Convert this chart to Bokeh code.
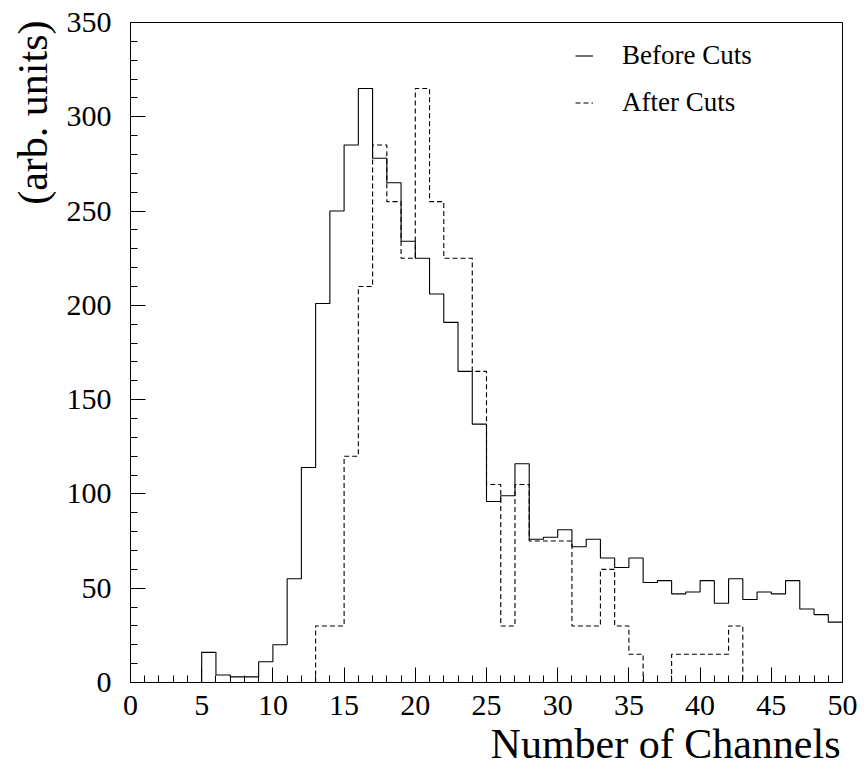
from bokeh.plotting import figure
from bokeh.models import Range1d, SingleIntervalTicker, Legend, LegendItem, Title
from bokeh.embed import file_html
from bokeh.resources import INLINE

# Histogram bin edges (channels) and contents per bin
bin_edges = list(range(0, 51))
before_cuts = [0, 0, 0, 0, 0, 16, 4, 3, 3, 11,
               20, 55, 114, 201, 250, 285, 315, 278, 265, 234,
               225, 206, 191, 165, 137, 96, 99, 116, 76, 77,
               81, 72, 76, 66, 61, 66, 53, 54, 47, 48,
               54, 42, 55, 44, 48, 47, 54, 39, 36, 32]
after_cuts = [0, 0, 0, 0, 0, 0, 0, 0, 0, 0,
              0, 0, 0, 30, 30, 120, 210, 285, 255, 225,
              315, 255, 225, 225, 165, 105, 30, 105, 75, 75,
              75, 30, 30, 60, 30, 15, 0, 0, 15, 15,
              15, 15, 30, 0, 0, 0, 0, 0, 0, 0]
series_labels = ["Before Cuts", "After Cuts"]
x_title = "Number of Channels"
y_title = "(arb. units)"

FONT = "Liberation Serif"

p = figure(width=865, height=769,
           x_range=Range1d(0, 50), y_range=Range1d(0, 350),
           output_backend="svg", toolbar_location=None,
           min_border_left=130, min_border_right=23,
           min_border_top=22, min_border_bottom=87,
           background_fill_color="white", border_fill_color="white")

p.xgrid.visible = False
p.ygrid.visible = False
p.outline_line_color = "black"
p.outline_line_width = 1
p.outline_line_alpha = 1

p.xaxis.ticker = SingleIntervalTicker(interval=5, num_minor_ticks=5)
p.yaxis.ticker = SingleIntervalTicker(interval=50, num_minor_ticks=5)

for ax in (p.xaxis[0], p.yaxis[0]):
    ax.axis_line_color = "black"
    ax.major_tick_line_color = "black"
    ax.minor_tick_line_color = "black"
    ax.major_tick_in = 15
    ax.major_tick_out = 0
    ax.minor_tick_in = 7
    ax.minor_tick_out = 0
    ax.major_label_text_font = FONT
    ax.major_label_text_font_size = "30px"
    ax.major_label_text_color = "black"

p.xaxis.major_label_standoff = 13
p.yaxis.major_label_standoff = 19

# Axis titles, flush with the far end of each axis
p.add_layout(Title(text=x_title, align="right", vertical_align="bottom",
                   standoff=3, offset=2,
                   text_font=FONT, text_font_size="42px",
                   text_font_style="normal", text_color="black"), "below")
p.add_layout(Title(text=y_title, align="right", vertical_align="top",
                   standoff=12, offset=-2,
                   text_font=FONT, text_font_size="42px",
                   text_font_style="normal", text_color="black"), "left")

# Step outlines: repeat the last bin so the final bin is drawn to the edge
r_before = p.step(bin_edges, before_cuts + before_cuts[-1:], mode="after",
                  line_color="black", line_width=1.1)
r_after = p.step(bin_edges, after_cuts + after_cuts[-1:], mode="after",
                 line_color="black", line_width=1.1, line_dash="5 3")

legend = Legend(items=[LegendItem(label=series_labels[0], renderers=[r_before]),
                       LegendItem(label=series_labels[1], renderers=[r_after])],
                location=(445, 562),
                border_line_color=None, background_fill_alpha=0,
                padding=0, margin=0, spacing=12,
                glyph_width=18, glyph_height=35, label_height=35,
                label_standoff=29,
                label_text_font=FONT, label_text_font_size="27px",
                label_text_color="black")
p.add_layout(legend)

open("out.html", "w").write(file_html(p, INLINE))
